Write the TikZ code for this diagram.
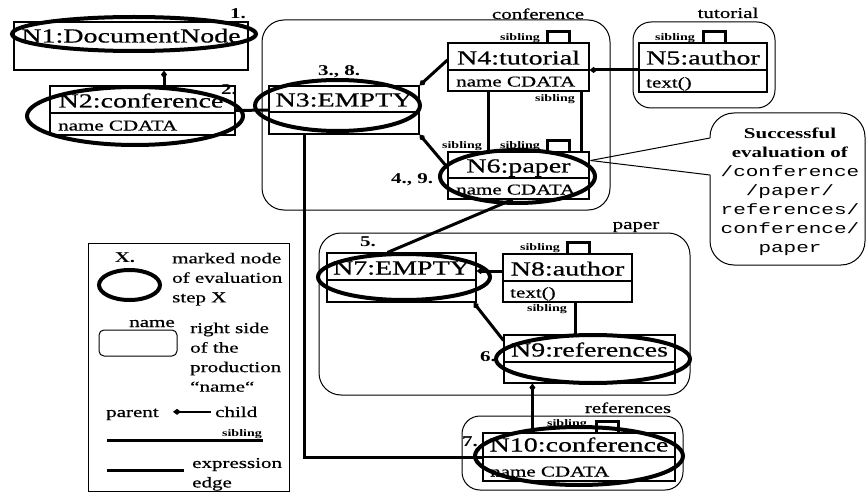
\documentclass[tikz,border=0pt]{standalone}
\usepackage{fontspec}
\setmainfont{Liberation Serif}[FakeStretch=1.4, UprightFeatures={FakeBold=0.6}]
\setmonofont{Liberation Mono}[FakeStretch=1.4]
\usetikzlibrary{shapes.geometric,arrows.meta,calc}

\tikzset{
 umlbox/.style={draw, line width=1.1pt, inner sep=0pt, fill=white},
 title/.style={font=\fontsize{20}{22}\selectfont, inner sep=0pt, anchor=base},
 attr/.style={font=\fontsize{15}{17}\selectfont, inner sep=0pt, anchor=base west},
 marker/.style={draw, ellipse, line width=4pt, inner sep=0pt},
 region/.style={draw, line width=1pt, rounded corners=22pt, inner sep=0pt},
 regionlabel/.style={font=\fontsize{15}{17}\selectfont, inner sep=0pt, anchor=base},
 sib/.style={font=\bfseries\fontsize{10}{11}\selectfont, inner sep=0pt},
 stepnum/.style={font=\bfseries\fontsize{15}{17}\selectfont, inner sep=0pt},
 legendtext/.style={font=\fontsize{15}{19.5}\selectfont, inner sep=0pt},
 edge/.style={line width=3pt},
 parentedge/.style={line width=3pt, -{Diamond[length=8pt,width=6pt]}},
 loopedge/.style={line width=3pt},
 thinline/.style={line width=1pt},
}

\newcommand\mkbox[6]{%
  \node[umlbox, minimum width={#4-#2}, minimum height={#5-#3}] (#1) at ({(#2+#4)/2},{(#3+#5)/2}) {};
  \draw[line width=1.1pt] (#1.west |- 0,#6) -- (#1.east |- 0,#6);
}
\newcommand\mkplainbox[5]{%
  \node[umlbox, minimum width={#4-#2}, minimum height={#5-#3}] (#1) at ({(#2+#4)/2},{(#3+#5)/2}) {};
}

\begin{document}
\begin{tikzpicture}[x=1pt,y=-1pt]
\useasboundingbox (0,0) rectangle (868,492);

% regions
\node[region, minimum width=348, minimum height=190] (rconf) at (436,115) {};
\node[regionlabel] (lconf) at (538,19) {conference};
\node[region, minimum width=142, minimum height=86, rounded corners=18pt] (rtut) at (704,65) {};
\node[regionlabel] (ltut) at (728,18) {tutorial};
\node[region, minimum width=371, minimum height=162] (rpaper) at (504.5,314) {};
\node[regionlabel] (lpaper) at (636,229) {paper};
\node[region, minimum width=221, minimum height=74, rounded corners=18pt] (rref) at (572.5,453) {};
\node[regionlabel] (lref) at (628,413) {references};

% boxes
\mkplainbox{n1}{14}{22}{248}{70}
\mkbox{n2}{50}{86}{235}{135}{113}
\mkbox{n3}{269}{86}{419}{134}{112}
\mkbox{n4}{448}{43}{589}{91}{70}
\mkbox{n5}{639}{43}{767}{92}{70}
\mkbox{n6}{448}{152}{589}{199}{178}
\mkbox{n7}{327}{253}{476}{302}{280}
\mkbox{n8}{503}{254}{632}{302}{281}
\mkbox{n9}{504}{335}{675}{383}{362}
\mkbox{n10}{483}{433}{675}{481}{457}

% titles
\node[title] (t1) at (131,42.5) {N1:DocumentNode};
\node[title] (t2) at (141,107.5) {N2:conference};
\node[title] (t3) at (344,106.5) {N3:EMPTY};
\node[title] (t4) at (518.5,64.5) {N4:tutorial};
\node[title] (t5) at (703,64.5) {N5:author};
\node[title] (t6) at (518.5,172.5) {N6:paper};
\node[title] (t7) at (401.5,274.5) {N7:EMPTY};
\node[title] (t8) at (567.5,275.5) {N8:author};
\node[title] (t9) at (589.5,356.5) {N9:references};
\node[title] (t10) at (579,451.5) {N10:conference};

% attributes
\node[attr] (a2) at (58,130.5) {name CDATA};
\node[attr] (a4) at (456,86.5) {name CDATA};
\node[attr] (a5) at (646,87.5) {text()};
\node[attr] (a6) at (456,194.5) {name CDATA};
\node[attr] (a8) at (510,297.5) {text()};
\node[attr] (a10) at (490,476.5) {name CDATA};

% sibling labels
\node[sib] (s4) at (520,38) {sibling};
\node[sib] (s5) at (675,38) {sibling};
\node[sib] (s6) at (520,146) {sibling};
\node[sib] (s46) at (462,146) {sibling};
\node[sib] (s64) at (555,99) {sibling};
\node[sib] (s8) at (540,248) {sibling};
\node[sib] (s89) at (547,309) {sibling};
\node[sib] (s10) at (567,424) {sibling};

% edges
\coordinate (c21) at ($(n2.north)+(21.5,0)$);
\draw[parentedge] (c21) -- (c21 |- n1.south);
\draw[edge] (n2.east) -- (n3.west);
\draw[parentedge] ($(n4.west)+(0,-7)$) -- (n3.north east);
\draw[parentedge] ($(n6.west)+(0,-8)$) -- (n3.south east);
\draw[parentedge] ($(n5.west)+(0,2.5)$) -- ($(n4.east)+(0,3)$);
\draw[edge] ($(n4.south west)+(41,0)$) -- ($(n6.north west)+(41,0)$);
\draw[edge] ($(n4.south west)+(134,0)$) -- ($(n6.north west)+(134,0)$);
\draw[loopedge] ($(n4.north west)+(100,0)$) -- ++(0,-11) -- ++(22,0) -- ++(0,11);
\draw[loopedge] ($(n5.north west)+(65,0)$) -- ++(0,-11) -- ++(22,0) -- ++(0,11);
\draw[loopedge] ($(n6.north west)+(100,0)$) -- ++(0,-11) -- ++(22,0) -- ++(0,11);
\draw[loopedge] ($(n8.north west)+(65,0)$) -- ++(0,-11) -- ++(22,0) -- ++(0,11);
\draw[loopedge] ($(n10.north west)+(114,0)$) -- ++(0,-11) -- ++(22,0) -- ++(0,11);
\draw[edge] ($(n6.south)+(-6,0)$) -- ($(n7.north)+(-14,0)$);
\draw[parentedge] ($(n8.west)+(0,-7)$) -- ($(n7.east)+(0,-6.5)$);
\draw[parentedge] ($(n9.north west)+(0,6)$) -- ($(n7.south east)+(-3,0)$);
\coordinate (c89) at ($(n8.south)+(8,0)$);
\draw[edge] (c89) -- (c89 |- n9.north);
\coordinate (c109) at ($(n10.north west)+(50,0)$);
\draw[parentedge] (c109) -- (c109 |- n9.south);
\coordinate (c310) at ($(n3.south west)+(36,0)$);
\draw[edge] (c310) |- (n10.west);

% step numbers
\node[stepnum] (st1) at (238,14) {1.};
\node[stepnum] (st2) at (229,90) {2.};
\node[stepnum] (st3) at (339,72) {3., 8.};
\node[stepnum] (st4) at (412,180) {4., 9.};
\node[stepnum] (st5) at (368,242) {5.};
\node[stepnum] (st6) at (488,357) {6.};
\node[stepnum] (st7) at (470,442) {7.};

% marked ellipses
\node[marker, minimum width=244, minimum height=34] (e1) at (134,34) {};
\node[marker, minimum width=216, minimum height=58] (e2) at (135,116) {};
\node[marker, minimum width=165, minimum height=51] (e3) at (337.5,105.5) {};
\node[marker, minimum width=155, minimum height=53] (e6) at (517.5,176.5) {};
\node[marker, minimum width=172, minimum height=46] (e7) at (404,277) {};
\node[marker, minimum width=194, minimum height=48] (e9) at (593,359) {};
\node[marker, minimum width=208, minimum height=58] (e10) at (579,456) {};

% callout
\coordinate (tip) at ($(n6.east)+(1,-15)$);
\draw[thinline] (tip) -- (710,138);
\draw[thinline] (tip) -- (710,175);
\draw[thinline, rounded corners=24pt] (710,175) -- (710,265) -- (865,265) -- (865,113) -- (710,113) -- (710,138);
\node[font=\fontsize{15}{19}\selectfont, align=center, inner sep=0pt, anchor=north] (note) at (790,127.7)
  {\textbf{Successful}\\\textbf{evaluation of}\\\texttt{/conference}\\\texttt{/paper/}\\\texttt{references/}\\\texttt{conference/}\\\texttt{paper}};

% legend
\node[draw, thinline, minimum width=201, minimum height=248, inner sep=0pt] (legend) at (188.5,367) {};
\node[stepnum] (lx) at (125,258) {X.};
\node[marker, minimum width=61, minimum height=30] (lmark) at (129.5,285) {};
\node[legendtext, anchor=north west, align=left] (lmarktext) at (172,252.7) {marked node\\of evaluation\\step X};
\node[legendtext, anchor=base] (lname) at (152,327) {name};
\node[draw, thinline, rounded corners=5pt, minimum width=78, minimum height=26, inner sep=0pt] (lrule) at (138,343) {};
\node[legendtext, anchor=north west, align=left] (lruletext) at (190,322.5) {right side\\of the\\production\\“name“};
\node[legendtext, anchor=base west] (lparent) at (106,417) {parent};
\node[legendtext, anchor=base west] (lchild) at (215,417) {child};
\coordinate (lpc) at ($(lchild.west)+(-4,0)$);
\draw[line width=2pt, -{Diamond[length=8pt,width=6pt]}] (lpc) -- ++(-38,0);
\node[sib, anchor=base] (lsib) at (242,436) {sibling};
\coordinate (ls1) at (107,440);
\coordinate (ls2) at (263,440);
\draw[edge] (ls1) -- (ls2);
\coordinate (le1) at (107,470);
\coordinate (le2) at (184,470);
\draw[edge] (le1) -- (le2);
\node[legendtext, anchor=north west, align=left] (lexpr) at (192,457.8) {expression\\edge};
\end{tikzpicture}
\end{document}
